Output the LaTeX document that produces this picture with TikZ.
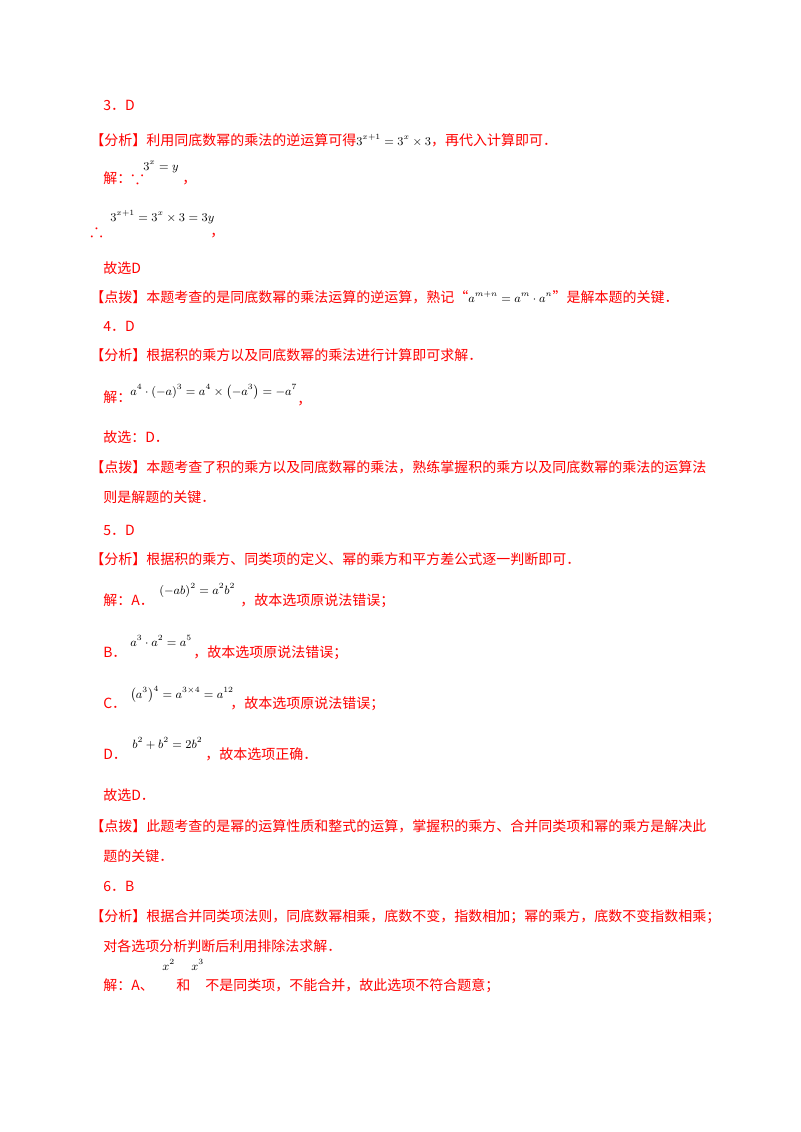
\documentclass[tikz,border=0pt]{standalone}
\usepackage{amssymb}
\usepackage{fontspec}
\setmainfont{Liberation Serif}
\newfontfamily\cjk{Noto Sans CJK SC}
\tikzset{t/.style={anchor=base west,inner sep=0pt,text=red,font=\cjk\fontsize{10.5}{12}\selectfont},
 m/.style={anchor=base west,inner sep=0pt,text=black,font=\fontsize{9}{11}\selectfont}}
\begin{document}
\begin{tikzpicture}[x=0.75pt,y=-0.75pt]
\useasboundingbox (0,0) rectangle (800,1132);
\node[t] (a1) at (103,110) {3．D};
\node[t] (a2) at (90,145) {【分析】利用同底数幂的乘法的逆运算可得\textcolor{black}{\fontsize{9}{11}\selectfont$3^{x+1}=3^x\times3$}，再代入计算即可．};
\node[t] (a3) at (103,183) {解：{\fontsize{14}{14}\selectfont$\because$}};
\node[m] (a3m) at (143,170) {$3^x=y$};
\node[t] (a3c) at (182,183) {，};
\node[t] (a4) at (90,236) {{\fontsize{14}{14}\selectfont$\therefore$}};
\node[m] (a4m) at (110,221) {$3^{x+1}=3^x\times3=3y$};
\node[t] (a4c) at (210,236) {，};
\node[t] (a5) at (103,273) {故选D};
\node[t] (a6) at (90,302) {【点拨】本题考查的是同底数幂的乘法运算的逆运算，熟记“\textcolor{black}{\fontsize{9}{11}\selectfont$a^{m+n}=a^m\cdot a^n$}”是解本题的关键．};
\node[t] (b1) at (103,331) {4．D};
\node[t] (b2) at (90,360) {【分析】根据积的乘方以及同底数幂的乘法进行计算即可求解．};
\node[t] (b3) at (103,402) {解：};
\node[m] (b3m) at (130,395) {$a^4\cdot(-a)^3=a^4\times\left(-a^3\right)=-a^7$};
\node[t] (b3c) at (297,404) {，};
\node[t] (b4) at (103,442) {故选：D．};
\node[t] (b5) at (90,472) {【点拨】本题考查了积的乘方以及同底数幂的乘法，熟练掌握积的乘方以及同底数幂的乘法的运算法};
\node[t] (b6) at (103,502) {则是解题的关键．};
\node[t] (c1) at (103,535) {5．D};
\node[t] (c2) at (90,564) {【分析】根据积的乘方、同类项的定义、幂的乘方和平方差公式逐一判断即可．};
\node[t] (c3) at (103,605) {解：A．};
\node[m] (c3m) at (159,594) {$(-ab)^2=a^2b^2$};
\node[t] (c3c) at (240,605) {，故本选项原说法错误；};
\node[t] (c4) at (103,657) {B．};
\node[m] (c4m) at (130,646) {$a^3\cdot a^2=a^5$};
\node[t] (c4c) at (193,657) {，故本选项原说法错误；};
\node[t] (c5) at (103,708) {C．};
\node[m] (c5m) at (130,698) {$\left(a^3\right)^4=a^{3\times4}=a^{12}$};
\node[t] (c5c) at (230,708) {，故本选项原说法错误；};
\node[t] (c6) at (103,759) {D．};
\node[m] (c6m) at (132,748) {$b^2+b^2=2b^2$};
\node[t] (c6c) at (205,759) {，故本选项正确．};
\node[t] (c7) at (103,800) {故选D．};
\node[t] (c8) at (90,831) {【点拨】此题考查的是幂的运算性质和整式的运算，掌握积的乘方、合并同类项和幂的乘方是解决此};
\node[t] (c9) at (103,861) {题的关键．};
\node[t] (d1) at (103,891) {6．B};
\node[t] (d2) at (90,921) {【分析】根据合并同类项法则，同底数幂相乘，底数不变，指数相加；幂的乘方，底数不变指数相乘；};
\node[t] (d3) at (103,951) {对各选项分析判断后利用排除法求解．};
\node[t] (d4) at (103,990) {解：A、};
\node[m] (d4m) at (162,970) {$x^2$};
\node[t] (d4a) at (176,990) {和};
\node[m] (d4n) at (191,970) {$x^3$};
\node[t] (d4c) at (205,990) {不是同类项，不能合并，故此选项不符合题意；};
\end{tikzpicture}
\end{document}
